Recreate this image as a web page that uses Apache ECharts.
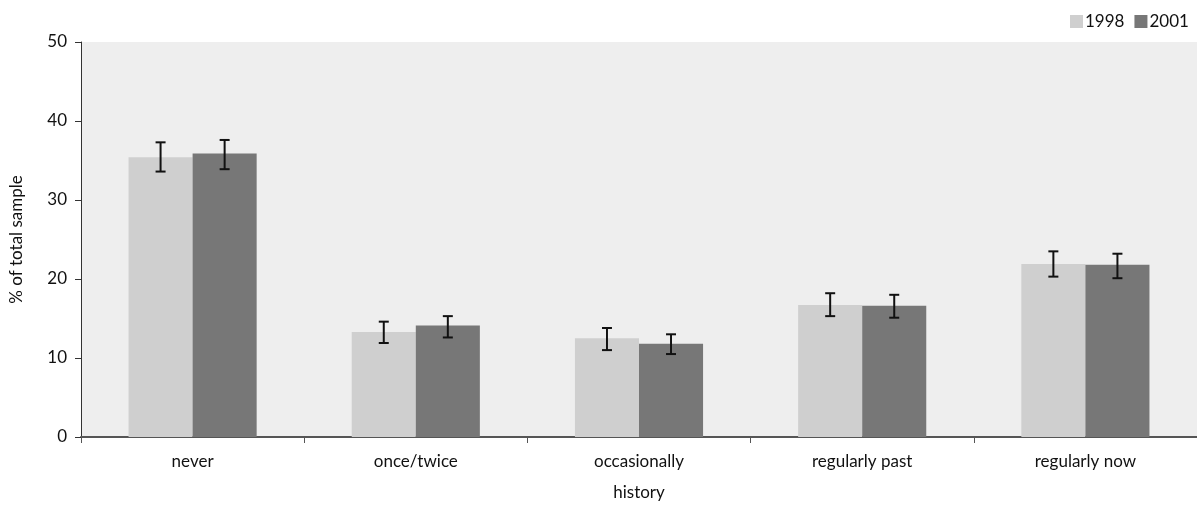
<!DOCTYPE html>
<html>
<head>
<meta charset="utf-8">
<script src="https://cdn.jsdelivr.net/npm/echarts@6/dist/echarts.min.js"></script>
<style>
  html, body { margin: 0; padding: 0; background: #fff; }
  #chart { width: 1197px; height: 510px; }
</style>
</head>
<body>
<div id="chart"></div>
<script>
const categories = ["never", "once/twice", "occasionally", "regularly past", "regularly now"];
const values1998 = [35.4, 13.3, 12.5, 16.7, 21.9];
const values2001 = [35.9, 14.1, 11.8, 16.6, 21.8];
const low1998 = [33.6, 11.9, 11.0, 15.3, 20.3];
const high1998 = [37.3, 14.6, 13.8, 18.2, 23.5];
const low2001 = [33.9, 12.6, 10.5, 15.1, 20.1];
const high2001 = [37.6, 15.3, 13.0, 18.0, 23.2];
const yTicks = [0, 10, 20, 30, 40, 50];

const catGap = 0.426;
const fontFamily = "Lato, 'Open Sans', sans-serif";

// error bar drawn at bar centre; side = -1 for 1998, +1 for 2001
const errorRender = (side) => (params, api) => {
  const idx = api.value(0);
  const lo = api.coord([idx, api.value(1)]);
  const hi = api.coord([idx, api.value(2)]);
  const band = api.size([1, 0])[0];
  const off = side * band * (1 - catGap) / 4;
  const x = lo[0] + off;
  const cap = 5;
  const style = { stroke: "#111", lineWidth: 2 };
  return {
    type: "group",
    children: [
      { type: "line", shape: { x1: x, y1: lo[1], x2: x, y2: hi[1] }, style },
      { type: "line", shape: { x1: x - cap, y1: hi[1], x2: x + cap, y2: hi[1] }, style },
      { type: "line", shape: { x1: x - cap, y1: lo[1], x2: x + cap, y2: lo[1] }, style },
    ],
  };
};

const chart = echarts.init(document.getElementById("chart"));
chart.setOption({
  animation: false,
  textStyle: { fontFamily },
  legend: {
    data: ["1998", "2001"],
    orient: "horizontal",
    left: 1070,
    top: 13,
    width: 200,
    padding: 0,
    itemWidth: 13,
    itemHeight: 13,
    itemGap: 10,
    icon: "rect",
    textStyle: { fontSize: 17, color: "#111", fontFamily, padding: [0, 0, 0, -3] },
  },
  grid: {
    left: 81, right: 0, top: 42, bottom: 73,
    outerBoundsMode: "none",
    containLabel: false,
    show: true, backgroundColor: "#eeeeee", borderWidth: 0,
  },
  xAxis: {
    type: "category",
    data: categories,
    name: "history",
    nameLocation: "middle",
    nameGap: 47,
    nameTextStyle: { fontSize: 17, color: "#111" },
    axisLine: { lineStyle: { color: "#555", width: 2 } },
    axisTick: { show: true, length: 6, lineStyle: { color: "#555" } },
    axisLabel: { fontSize: 17, color: "#111", margin: 16 },
  },
  yAxis: {
    type: "value",
    min: yTicks[0],
    max: yTicks[yTicks.length - 1],
    interval: 10,
    name: "% of total sample",
    nameLocation: "middle",
    nameGap: 56,
    nameTextStyle: { fontSize: 17, color: "#111" },
    axisLine: { show: true, lineStyle: { color: "#333" } },
    axisTick: { show: true, length: 6, lineStyle: { color: "#333" } },
    axisLabel: { fontSize: 17, color: "#111", margin: 14 },
    splitLine: { show: false },
  },
  series: [
    {
      name: "1998",
      type: "bar",
      data: values1998,
      itemStyle: { color: "#cfcfcf" },
      barGap: "0%",
      barCategoryGap: catGap * 100 + "%",
    },
    {
      name: "2001",
      type: "bar",
      data: values2001,
      itemStyle: { color: "#777777" },
      barGap: "0%",
      barCategoryGap: catGap * 100 + "%",
    },
    {
      type: "custom",
      renderItem: errorRender(-1),
      data: categories.map((c, i) => [i, low1998[i], high1998[i]]),
      encode: { x: 0, y: [1, 2] },
      z: 10,
    },
    {
      type: "custom",
      renderItem: errorRender(1),
      data: categories.map((c, i) => [i, low2001[i], high2001[i]]),
      encode: { x: 0, y: [1, 2] },
      z: 10,
    },
  ],
});
</script>
</body>
</html>
